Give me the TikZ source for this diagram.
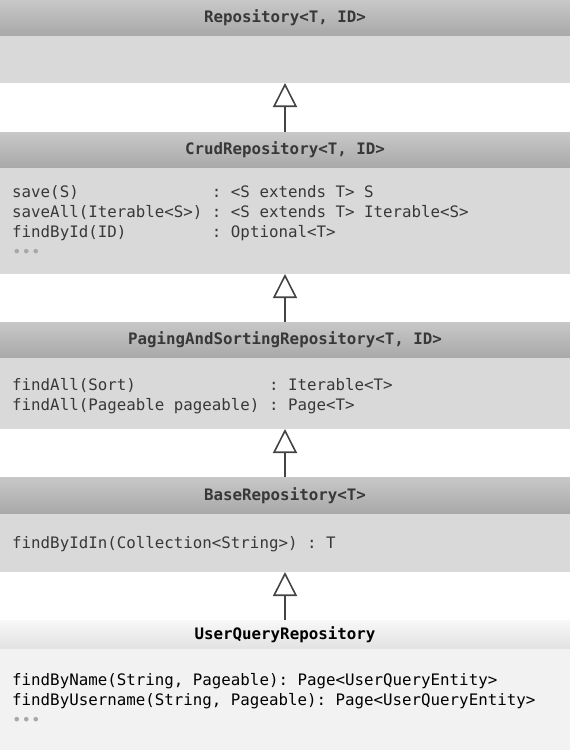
\documentclass[tikz,border=0pt]{standalone}
\usepackage{fontspec}
\setmonofont{DejaVu Sans Mono}
\usetikzlibrary{arrows.meta}

\definecolor{headtop}{HTML}{C8C8C8}
\definecolor{headbot}{HTML}{A8A8A8}
\definecolor{bodygray}{HTML}{D9D9D9}
\definecolor{lighttop}{HTML}{F8F8F8}
\definecolor{lightbot}{HTML}{E2E2E2}
\definecolor{lightbody}{HTML}{F2F2F2}
\definecolor{textgray}{HTML}{383838}
\definecolor{dotgray}{HTML}{A8A8A8}
\definecolor{arrowgray}{HTML}{444444}

\begin{document}
\begin{tikzpicture}[x=1pt, y=-1pt,
  header/.style={anchor=north west, minimum width=570pt, inner sep=0pt, outer sep=0pt,
    top color=headtop, bottom color=headbot, text=textgray,
    font=\ttfamily\bfseries\fontsize{15.8}{20}\selectfont},
  lastheader/.style={header, top color=lighttop, bottom color=lightbot, text=black},
  body/.style={anchor=north west, minimum width=570pt, inner sep=0pt, outer sep=0pt, fill=bodygray},
  ops/.style={anchor=base west, inner sep=0pt, text=textgray,
    font=\ttfamily\fontsize{15.8}{20}\selectfont},
  inherit/.style={draw=arrowgray, line width=1.6pt, -{Triangle[open, length=24pt, width=24pt]}}]
\useasboundingbox (0,0) rectangle (570,750);

% Repository
\node [header, minimum height=36pt] (repohead) at (0,0) {Repository<T, ID>};
\node [body, minimum height=47pt] (repobody) at (0,36) {};

% CrudRepository
\node [header, minimum height=36pt] (crudhead) at (0,132) {CrudRepository<T, ID>};
\node [body, minimum height=106pt] (crudbody) at (0,168) {};
\node [ops] (crudops) at (12,197) {\begin{tabular}[t]{@{}l@{\ }l@{}}
save(S) & : <S extends T> S \\
saveAll(Iterable<S>) & : <S extends T> Iterable<S> \\
findById(ID) & : Optional<T> \\
\multicolumn{2}{@{}l@{}}{\textcolor{dotgray}{•••}}
\end{tabular}};

% PagingAndSortingRepository
\node [header, minimum height=36pt] (paginghead) at (0,322) {PagingAndSortingRepository<T, ID>};
\node [body, minimum height=71pt] (pagingbody) at (0,358) {};
\node [ops] (pagingops) at (12,390) {\begin{tabular}[t]{@{}l@{\ }l@{}}
findAll(Sort) & : Iterable<T> \\
findAll(Pageable pageable) & : Page<T>
\end{tabular}};

% BaseRepository
\node [header, minimum height=37pt] (basehead) at (0,477) {BaseRepository<T>};
\node [body, minimum height=58pt] (basebody) at (0,514) {};
\node [ops] (baseops) at (12,548) {findByIdIn(Collection<String>) : T};

% UserQueryRepository
\node [lastheader, minimum height=29pt] (userhead) at (0,620) {UserQueryRepository};
\node [body, fill=lightbody, minimum height=101pt] (userbody) at (0,649) {};
\node [ops, text=black] (userops) at (12,685) {\begin{tabular}[t]{@{}l@{}}
findByName(String, Pageable): Page<UserQueryEntity> \\
findByUsername(String, Pageable): Page<UserQueryEntity> \\
\textcolor{dotgray}{•••}
\end{tabular}};

% inheritance
\draw [inherit] (crudhead.north) -- (repobody.south);
\draw [inherit] (paginghead.north) -- (crudbody.south);
\draw [inherit] (basehead.north) -- (pagingbody.south);
\draw [inherit] (userhead.north) -- (basebody.south);

\end{tikzpicture}
\end{document}
